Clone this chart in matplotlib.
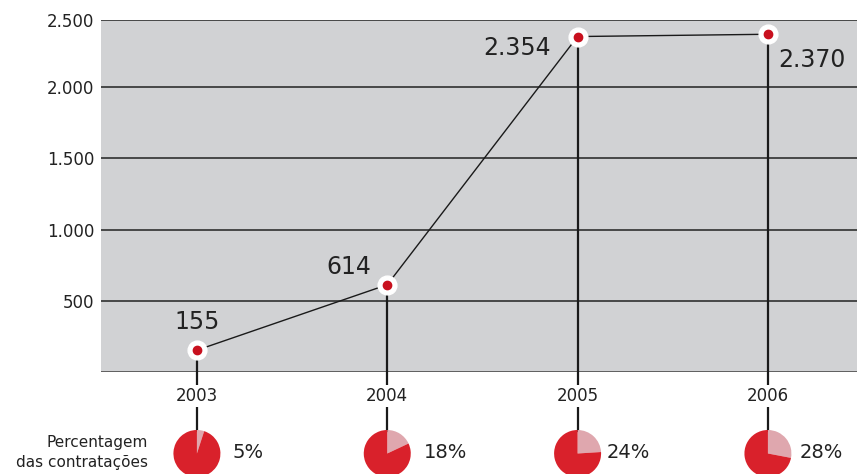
import matplotlib
matplotlib.use("Agg")
import matplotlib.pyplot as plt

years = [2003, 2004, 2005, 2006]
values = [155, 614, 2354, 2370]
value_labels = ["155", "614", "2.354", "2.370"]
percentages = [5, 18, 24, 28]
pct_labels = ["5%", "18%", "24%", "28%"]
yticks = [500, 1000, 1500, 2000, 2470]
ytick_labels = ["500", "1.000", "1.500", "2.000", "2.500"]

plt.rcParams['font.family'] = ['DejaVu Sans']
W, H = 857, 474
fig = plt.figure(figsize=(W / 100, H / 100), dpi=100)

left_px, right_px, top_px, bot_px = 101, 857, 20, 372.3
ymax = 2469
ax = fig.add_axes([left_px / W, 1 - bot_px / H, (right_px - left_px) / W, (bot_px - top_px) / H])
ax.set_facecolor('#d1d2d4')
ax.set_xlim(2002.496, 2006.468)
ax.set_ylim(0, ymax)
for s in ax.spines.values():
    s.set_visible(False)
ax.set_xticks([])
ax.set_yticks(yticks)
ax.set_yticklabels(ytick_labels, fontsize=12, color='#222222')
ax.tick_params(axis='y', length=0, pad=5)
for v in yticks:
    ax.axhline(v, color='#222222', lw=1.1, zorder=1)
ax.axhline(0, color='#555555', lw=2, zorder=1)

px_per_unit = (bot_px - top_px) / ymax
def px_to_val(py):
    return -(py - bot_px) / px_per_unit

pie_top = px_to_val(431)
label_y = px_to_val(396)

# vertical connectors
for x, v in zip(years, values):
    ax.plot([x, x], [v, pie_top], color='#1a1a1a', lw=1.6, clip_on=False, zorder=2)
    ax.text(x, label_y, str(x), ha='center', va='center', fontsize=12, color='#222222',
            bbox=dict(facecolor='white', edgecolor='none', pad=1.5), zorder=3, clip_on=False)

ax.plot(years, values, color='#1a1a1a', lw=1.0, zorder=4)
ax.plot(years, values, 'o', ms=13.5, mfc='white', mec='white', zorder=5)
ax.plot(years, values, 'o', ms=6, mfc='#c8101e', mec='#c8101e', zorder=6)

offsets = [(0, 28), (-38, 18), (-61, -11), (44, -26)]
for x, v, lab, off in zip(years, values, value_labels, offsets):
    ax.annotate(lab, (x, v), xytext=off, textcoords='offset pixels', ha='center', va='center',
                fontsize=17, color='#222222', zorder=7)

# pies
r = 23.5
pcy = 453.5
text_dx = [36, 37, 29, 32]
for x, p, lab, dx in zip(years, percentages, pct_labels, text_dx):
    fx, _ = ax.transData.transform((x, 0))
    pax = fig.add_axes([(fx - r) / W, (H - pcy - r) / H, 2 * r / W, 2 * r / H])
    pax.pie([p, 100 - p], colors=['#dfa7ae', '#d9212b'], startangle=90, counterclock=False,
            wedgeprops=dict(linewidth=0))
    pax.set_xlim(-1, 1)
    pax.set_ylim(-1, 1)
    pax.set_aspect('equal')
    pax.axis('off')
    fig.text((fx + dx) / W, 1 - 453 / H, lab, ha='left', va='center', fontsize=14, color='#222222')

fig.text(148 / W, 1 - 443 / H, "Percentagem", ha='right', va='center', fontsize=11, color='#222222')
fig.text(148 / W, 1 - 463 / H, "das contratações", ha='right', va='center', fontsize=11, color='#222222')

fig.savefig('out.png', dpi=100)
